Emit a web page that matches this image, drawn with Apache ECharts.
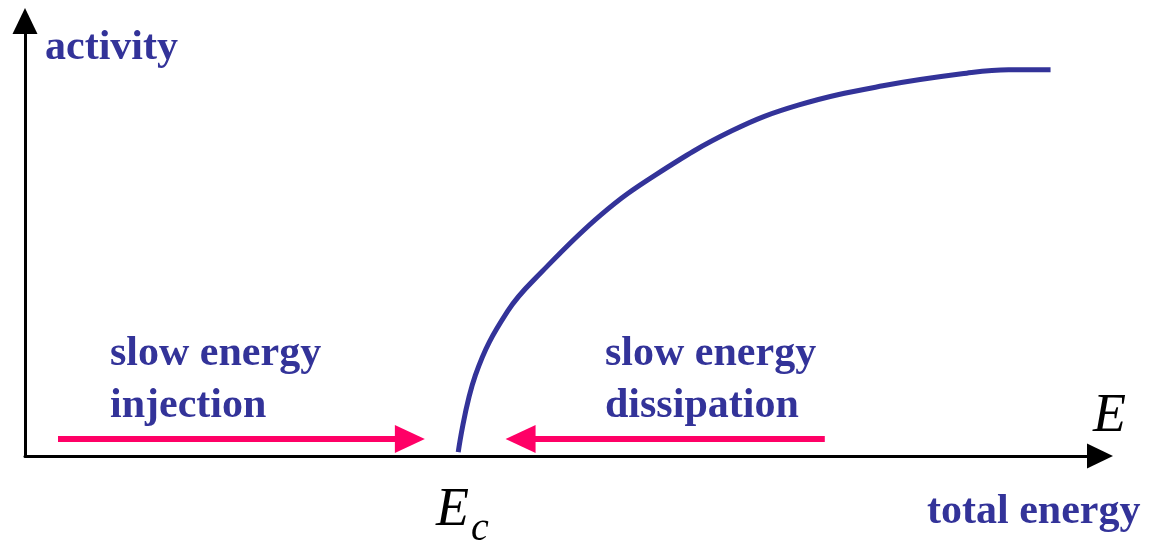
<!DOCTYPE html>
<html>
<head>
<meta charset="utf-8">
<script src="https://cdn.jsdelivr.net/npm/echarts@6/dist/echarts.min.js"></script>
<style>
  html, body { margin: 0; padding: 0; background: #fff; }
  #main { width: 1155px; height: 548px; }
</style>
</head>
<body>
<div id="main"></div>
<script>
var navy = '#333399';
var pink = '#ff0066';
var serif = "'Liberation Serif', 'Times New Roman', serif";

// activity curve, energy (x) vs activity (y), both 0..100
var energy   = [40.3, 41.9, 44.9, 48.1, 53.6, 58.7, 65.8, 72.0, 79.8, 87.6, 91.5, 95.4];
var activity = [0.9, 18.6, 33.3, 42.4, 55.5, 64.7, 74.8, 80.7, 85.1, 88.0, 88.8, 88.8];

// slow energy injection / dissipation arrows: [fromX, toX, y]
var injection   = [3.07, 35.8, 3.9];
var dissipation = [74.4, 46.1, 3.9];

var chart = echarts.init(document.getElementById('main'));

var curve = energy.map(function (x, i) { return [x, activity[i]]; });

function arrow(a) {
  return [{ coord: [a[0], a[2]] }, { coord: [a[1], a[2]] }];
}

var axisCommon = {
  type: 'value',
  min: 0,
  max: 100,
  axisLabel: { show: false },
  axisTick: { show: false },
  splitLine: { show: false },
  axisLine: {
    show: true,
    symbol: ['none', 'triangle'],
    symbolSize: [25, 26],
    lineStyle: { color: '#000', width: 3 }
  }
};

chart.setOption({
  animation: false,
  grid: { left: 25, right: 55, top: 21, bottom: 92 },
  xAxis: axisCommon,
  yAxis: axisCommon,
  series: [{
    type: 'line',
    data: curve,
    smooth: 0.4,
    showSymbol: false,
    lineStyle: { color: navy, width: 5 },
    markLine: {
      silent: true,
      symbol: ['none', 'triangle'],
      symbolSize: [28, 30],
      label: { show: false },
      lineStyle: { color: pink, width: 6, type: 'solid' },
      data: [arrow(injection), arrow(dissipation)]
    }
  }],
  graphic: [
    { type: 'text', left: 45, top: 27,
      style: { text: 'activity', font: 'bold 42px ' + serif, fill: navy } },
    { type: 'text', left: 110, top: 328,
      style: { text: 'slow energy\ninjection', font: 'bold 42px ' + serif, fill: navy, lineHeight: 52 } },
    { type: 'text', left: 605, top: 328,
      style: { text: 'slow energy\ndissipation', font: 'bold 42px ' + serif, fill: navy, lineHeight: 52 } },
    { type: 'text', left: 927, top: 491,
      style: { text: 'total energy', font: 'bold 42px ' + serif, fill: navy } },
    { type: 'text', left: 1093, top: 390,
      style: { text: 'E', font: 'italic 54px ' + serif, fill: '#000' } },
    { type: 'text', left: 436, top: 484,
      style: {
        text: '{e|E}{c|c}',
        rich: {
          e: { font: 'italic 54px ' + serif, fill: '#000' },
          c: { font: 'italic 40px ' + serif, fill: '#000', padding: [36, 0, 0, 2] }
        }
      } }
  ]
});
</script>
</body>
</html>
